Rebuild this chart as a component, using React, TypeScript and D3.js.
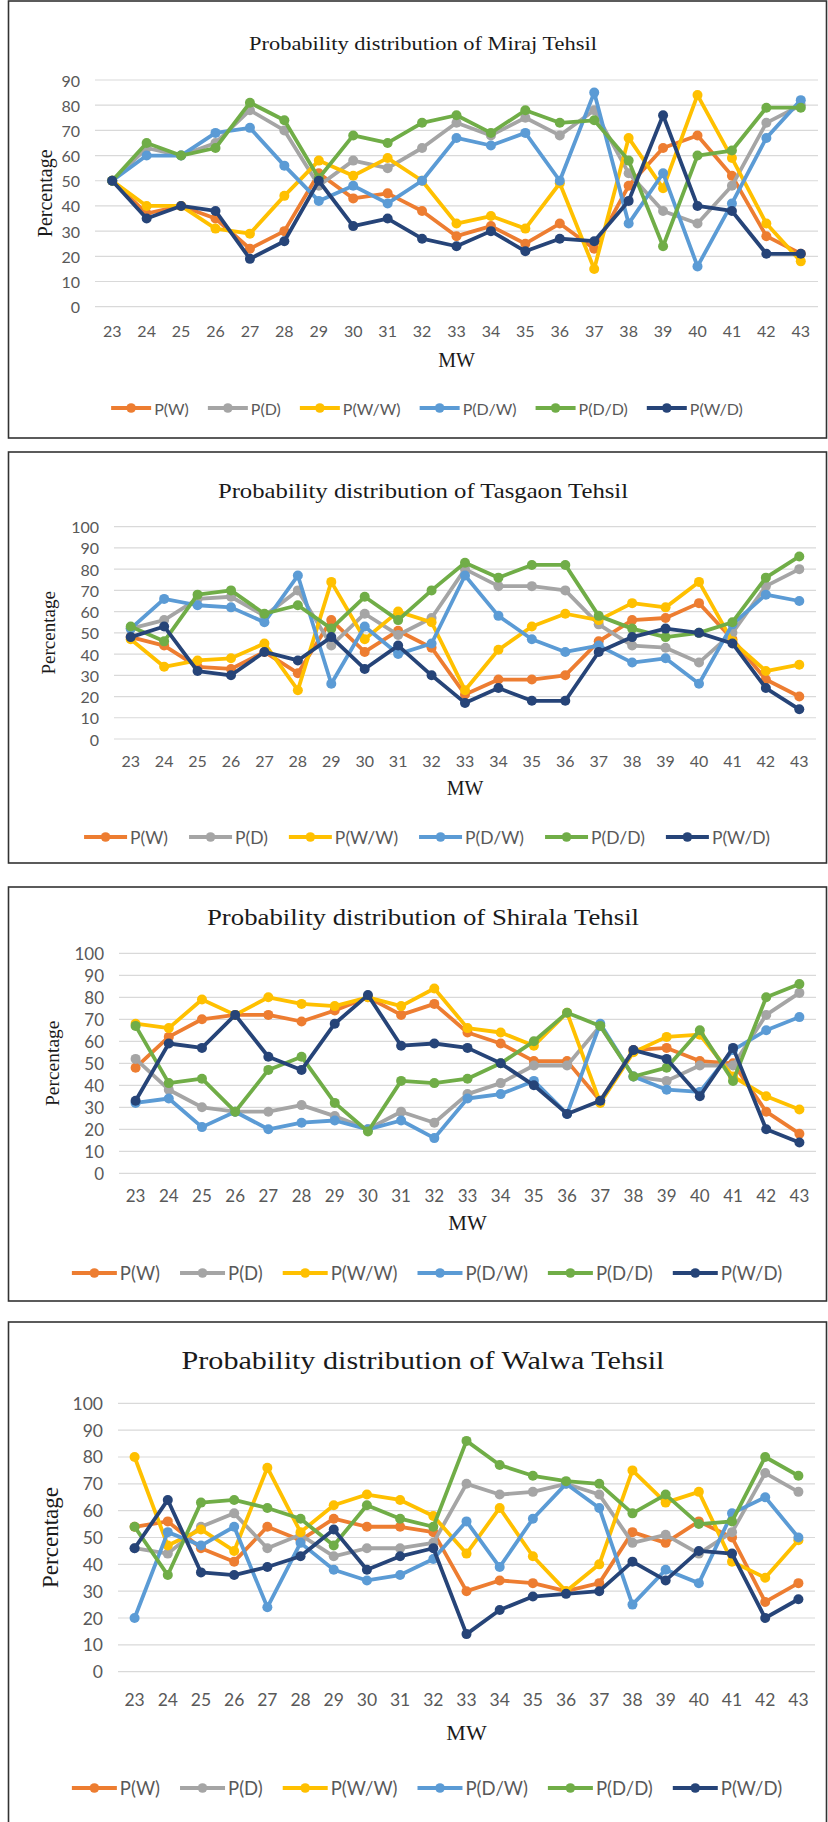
import React, { useEffect, useRef } from "react";
import * as d3 from "d3";

// meteorological weeks on the x axis
const weeks = d3.range(23, 44).map(String);
const seriesNames = ["P(W)", "P(D)", "P(W/W)", "P(D/W)", "P(D/D)", "P(W/D)"];
const seriesColors = ["#ED7D31", "#A5A5A5", "#FFC000", "#5B9BD5", "#70AD47", "#264478"];

// Miraj
const mirajPW = [50, 37, 40, 35, 23, 30, 53, 43, 45, 38, 28, 32, 25, 33, 23, 48, 63, 68, 52, 28, 21];
const mirajPD = [50, 63, 60, 65, 78, 70, 48, 58, 55, 63, 73, 68, 75, 68, 78, 53, 38, 33, 48, 73, 80];
const mirajPWW = [50, 40, 40, 31, 29, 44, 58, 52, 59, 50, 33, 36, 31, 49, 15, 67, 47, 84, 59, 33, 18];
const mirajPDW = [50, 60, 60, 69, 71, 56, 42, 48, 41, 50, 67, 64, 69, 50, 85, 33, 53, 16, 41, 67, 82];
const mirajPDD = [50, 65, 60, 63, 81, 74, 51, 68, 65, 73, 76, 69, 78, 73, 74, 58, 24, 60, 62, 79, 79];
const mirajPWD = [50, 35, 40, 38, 19, 26, 50, 32, 35, 27, 24, 30, 22, 27, 26, 42, 76, 40, 38, 21, 21];

// Tasgaon
const tasgaonPW = [48, 44, 34, 33, 41, 31, 56, 41, 51, 43, 21, 28, 28, 30, 46, 56, 57, 64, 47, 28, 20];
const tasgaonPD = [52, 56, 66, 67, 58, 70, 44, 59, 49, 57, 80, 72, 72, 70, 54, 44, 43, 36, 50, 72, 80];
const tasgaonPWW = [47, 34, 37, 38, 45, 23, 74, 47, 60, 55, 23, 42, 53, 59, 56, 64, 62, 74, 46, 32, 35];
const tasgaonPDW = [52, 66, 63, 62, 55, 77, 26, 53, 40, 45, 77, 58, 47, 41, 44, 36, 38, 26, 54, 68, 65];
const tasgaonPDD = [53, 46, 68, 70, 59, 63, 52, 67, 56, 70, 83, 76, 82, 82, 58, 52, 48, 50, 55, 76, 86];
const tasgaonPWD = [48, 53, 32, 30, 41, 37, 48, 33, 44, 30, 17, 24, 18, 18, 41, 48, 52, 50, 45, 24, 14];

// Shirala
const shiralaPW = [48, 62, 70, 72, 72, 69, 74, 80, 72, 77, 64, 59, 51, 51, 33, 56, 57, 51, 50, 28, 18];
const shiralaPD = [52, 38, 30, 28, 28, 31, 26, 20, 28, 23, 36, 41, 49, 49, 67, 44, 42, 49, 49, 72, 82];
const shiralaPWW = [68, 66, 79, 72, 80, 77, 76, 80, 76, 84, 66, 64, 58, 73, 32, 55, 62, 63, 44, 35, 29];
const shiralaPDW = [32, 34, 21, 28, 20, 23, 24, 20, 24, 16, 34, 36, 42, 27, 68, 44, 38, 37, 56, 65, 71];
const shiralaPDD = [67, 41, 43, 28, 47, 53, 32, 19, 42, 41, 43, 50, 60, 73, 67, 44, 48, 65, 42, 80, 86];
const shiralaPWD = [33, 59, 57, 72, 53, 47, 68, 81, 58, 59, 57, 50, 40, 27, 33, 56, 52, 35, 57, 20, 14];

// Walwa
const walwaPW = [54, 56, 46, 41, 54, 49, 57, 54, 54, 52, 30, 34, 33, 30, 33, 52, 48, 56, 50, 26, 33];
const walwaPD = [46, 44, 54, 59, 46, 51, 43, 46, 46, 48, 70, 66, 67, 70, 66, 48, 51, 44, 52, 74, 67];
const walwaPWW = [80, 47, 53, 45, 76, 52, 62, 66, 64, 58, 44, 61, 43, 30, 40, 75, 63, 67, 41, 35, 49];
const walwaPDW = [20, 52, 47, 54, 24, 48, 38, 34, 36, 42, 56, 39, 57, 70, 61, 25, 38, 33, 59, 65, 50];
const walwaPDD = [54, 36, 63, 64, 61, 57, 47, 62, 57, 54, 86, 77, 73, 71, 70, 59, 66, 55, 56, 80, 73];
const walwaPWD = [46, 64, 37, 36, 39, 43, 53, 38, 43, 46, 14, 23, 28, 29, 30, 41, 34, 45, 44, 20, 27];

const tehsils = [
  { title: "Probability distribution of Miraj Tehsil", yMax: 90,
    series: [mirajPW, mirajPD, mirajPWW, mirajPDW, mirajPDD, mirajPWD] },
  { title: "Probability distribution of Tasgaon Tehsil", yMax: 100,
    series: [tasgaonPW, tasgaonPD, tasgaonPWW, tasgaonPDW, tasgaonPDD, tasgaonPWD] },
  { title: "Probability distribution of Shirala Tehsil", yMax: 100,
    series: [shiralaPW, shiralaPD, shiralaPWW, shiralaPDW, shiralaPDD, shiralaPWD] },
  { title: "Probability distribution of Walwa Tehsil", yMax: 100,
    series: [walwaPW, walwaPD, walwaPWW, walwaPDW, walwaPDD, walwaPWD] },
];

// page layout of each panel
const layouts = [
  { frameTop: 1, frameBottom: 438, titleY: 44, titleSize: 19.5, top: 80, bottom: 306.7, left: 95, right: 818,
    tickY: 330, tickSize: 16, mwY: 360, mwSize: 20, legendY: 408, legendSize: 16, legLine: 40, legGap: 19,
    labelX: 45, labelSize: 20 },
  { frameTop: 452, frameBottom: 863, titleY: 491, titleSize: 21.5, top: 526.7, bottom: 739, left: 114, right: 816,
    tickY: 760, tickSize: 16, mwY: 788, mwSize: 20, legendY: 837, legendSize: 17.5, legLine: 43, legGap: 21,
    labelX: 48, labelSize: 19 },
  { frameTop: 887, frameBottom: 1301, titleY: 917, titleSize: 23.3, top: 953.3, bottom: 1173.3, left: 119, right: 816,
    tickY: 1195, tickSize: 17, mwY: 1223, mwSize: 21, legendY: 1273, legendSize: 18.5, legLine: 45, legGap: 20,
    labelX: 52, labelSize: 19.5 },
  { frameTop: 1322, frameBottom: 1830, titleY: 1360, titleSize: 26.2, top: 1403.3, bottom: 1671.7, left: 118, right: 815,
    tickY: 1699, tickSize: 17.5, mwY: 1732, mwSize: 22, legendY: 1788, legendSize: 18.5, legLine: 45, legGap: 20,
    labelX: 50, labelSize: 23 },
];

const W = 828;
const H = 1822;
const serif = "'Liberation Serif', 'Times New Roman', serif";
const sans = "Lato, 'Open Sans', sans-serif";
// the source image is slightly stretched sideways
const stretch = 1.15;

export default function App() {
  const ref = useRef<SVGSVGElement>(null);

  useEffect(() => {
    const svg = d3.select(ref.current);
    svg.selectAll("*").remove();

    svg.append("rect").attr("width", W).attr("height", H).attr("fill", "#fff");

    tehsils.forEach((t, i) => {
      const L = layouts[i];
      const g = svg.append("g");

      g.append("rect")
        .attr("x", 8.5).attr("y", L.frameTop)
        .attr("width", 818).attr("height", L.frameBottom - L.frameTop)
        .attr("fill", "#fff").attr("stroke", "#333").attr("stroke-width", 1.6);

      const x = d3.scalePoint().domain(weeks).range([L.left, L.right]).padding(0.5);
      const y = d3.scaleLinear().domain([0, t.yMax]).range([L.bottom, L.top]);
      const yTicks = d3.range(0, t.yMax + 1, 10);

      g.selectAll(".grid").data(yTicks).enter().append("line")
        .attr("x1", L.left).attr("x2", L.right)
        .attr("y1", d => y(d)).attr("y2", d => y(d))
        .attr("stroke", "#d9d9d9").attr("stroke-width", 1.2);

      g.selectAll(".ytick").data(yTicks).enter().append("text")
        .attr("x", L.left - 15).attr("y", d => y(d))
        .attr("text-anchor", "end").attr("dominant-baseline", "central")
        .attr("font-family", sans).attr("font-size", L.tickSize).attr("fill", "#595959")
        .text(d => d);

      g.selectAll(".xtick").data(weeks).enter().append("text")
        .attr("x", d => x(d)!).attr("y", L.tickY)
        .attr("text-anchor", "middle").attr("dominant-baseline", "central")
        .attr("font-family", sans).attr("font-size", L.tickSize).attr("fill", "#595959")
        .text(d => d);

      const line = d3.line<number>()
        .x((_, j) => x(weeks[j])!)
        .y(d => y(d));

      t.series.forEach((vals, s) => {
        g.append("path")
          .attr("d", line(vals))
          .attr("fill", "none").attr("stroke", seriesColors[s])
          .attr("stroke-width", 3.8).attr("stroke-linejoin", "round");
        g.selectAll(".m" + s).data(vals).enter().append("circle")
          .attr("cx", (_, j) => x(weeks[j])!).attr("cy", d => y(d))
          .attr("r", 5).attr("fill", seriesColors[s]);
      });

      g.append("text")
        .attr("transform", `translate(423,${L.titleY}) scale(${stretch},1)`)
        .attr("text-anchor", "middle").attr("dominant-baseline", "central")
        .attr("font-family", serif).attr("font-size", L.titleSize).attr("fill", "#1a1a1a")
        .text(t.title);

      g.append("text")
        .attr("transform", `translate(${L.labelX},${(L.top + L.bottom) / 2}) rotate(-90)`)
        .attr("text-anchor", "middle").attr("dominant-baseline", "central")
        .attr("font-family", serif).attr("font-size", L.labelSize).attr("fill", "#1a1a1a")
        .text("Percentage");

      g.append("text")
        .attr("x", (L.left + L.right) / 2).attr("y", L.mwY)
        .attr("text-anchor", "middle").attr("dominant-baseline", "central")
        .attr("font-family", serif).attr("font-size", L.mwSize).attr("fill", "#1a1a1a")
        .text("MW");

      // legend, laid out after measuring text
      const leg = g.append("g");
      let cursor = 0;
      seriesNames.forEach((name, s) => {
        const item = leg.append("g").attr("transform", `translate(${cursor},0)`);
        item.append("line").attr("x1", 0).attr("x2", L.legLine).attr("y1", 0).attr("y2", 0)
          .attr("stroke", seriesColors[s]).attr("stroke-width", 3.8);
        item.append("circle").attr("cx", L.legLine / 2).attr("cy", 0).attr("r", 4.8).attr("fill", seriesColors[s]);
        const txt = item.append("text")
          .attr("x", L.legLine + 3).attr("y", 0).attr("dominant-baseline", "central")
          .attr("font-family", sans).attr("font-size", L.legendSize).attr("fill", "#595959")
          .text(name);
        const tw = (txt.node() as SVGTextElement).getComputedTextLength();
        cursor += L.legLine + 3 + tw + L.legGap;
      });
      const total = cursor - L.legGap;
      leg.attr("transform", `translate(${427 - total / 2},${L.legendY})`);
    });
  }, []);

  return (
    <div style={{ position: "absolute", left: 0, top: 0 }}>
      <svg ref={ref} width={W} height={H}></svg>
    </div>
  );
}
